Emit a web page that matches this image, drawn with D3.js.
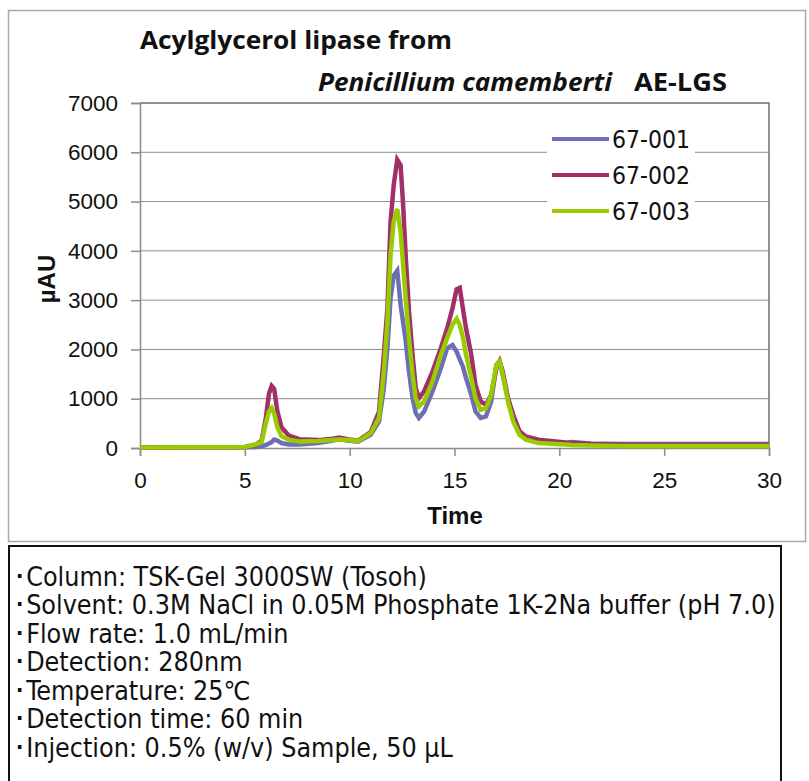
<!DOCTYPE html>
<html>
<head>
<meta charset="utf-8">
<script src="https://cdn.jsdelivr.net/npm/d3@7"></script>
<style>
  body { margin: 0; background: #fff; }
  .tick text { font-family: "Liberation Sans", Arial, sans-serif; }
</style>
</head>
<body>
<div id="chart"></div>
<script>
// Step 1: data
//= =================================
var times = [
  0, 5, 5.5, 5.8, 6.0, 6.15, 6.28, 6.4, 6.55, 6.75,
  7.1, 7.6, 8.5, 9.2, 9.5, 9.9, 10.4, 11.0, 11.4, 11.63,
  11.8, 11.95, 12.1, 12.27, 12.43, 12.55, 12.67, 12.83, 13.0, 13.15,
  13.3, 13.55, 13.95, 14.35, 14.65, 14.9, 15.1, 15.25, 15.4, 15.55,
  15.8, 16.0, 16.25, 16.5, 16.75, 17.0, 17.15, 17.3, 17.55, 17.8,
  18.1, 18.4, 19.0, 20.3, 20.6, 21.5, 23, 25, 27, 30
];

var s001 = [
  10, 15, 20, 40, 60, 90, 120, 170, 150, 100,
  70, 70, 100, 150, 180, 150, 130, 270, 540, 1215,
  2025, 3040, 3500, 3600, 2900, 2550, 2180, 1550, 1010, 710,
  610, 740, 1150, 1620, 2025, 2090, 1955, 1800, 1650, 1420,
  1080, 740, 610, 640, 945, 1690, 1760, 1485, 1010, 610,
  300, 200, 135, 100, 120, 90, 80, 80, 80, 80
];

var s002 = [
  10, 20, 60, 150, 600, 1100, 1260, 1200, 750, 420,
  250, 180, 160, 190, 210, 180, 150, 320, 740, 1890,
  2830, 4590, 5330, 5850, 5740, 4930, 3910, 2770, 1890, 1215,
  1010, 1150, 1550, 2025, 2430, 2830, 3220, 3250, 2830, 2430,
  1890, 1280, 945, 880, 1080, 1620, 1760, 1550, 1010, 675,
  340, 235, 170, 110, 100, 80, 70, 70, 70, 70
];

var s003 = [
  10, 20, 70, 120, 500, 740, 810, 700, 420, 240,
  170, 130, 140, 160, 170, 160, 140, 300, 610, 1550,
  2565, 3910, 4590, 4850, 4390, 3710, 3040, 2230, 1485, 1010,
  845, 945, 1350, 1890, 2230, 2500, 2620, 2500, 2250, 1890,
  1420, 1010, 775, 810, 1080, 1690, 1760, 1485, 945, 540,
  270, 170, 100, 70, 60, 50, 40, 40, 40, 40
];

var seriesNames = ["67-001", "67-002", "67-003"];
var seriesColors = ["#6e6eb4", "#a12f68", "#98cc00"];
var xTicks = [0, 5, 10, 15, 20, 25, 30];
var yTicks = [0, 1000, 2000, 3000, 4000, 5000, 6000, 7000];

var conditions = [
  "･Column: TSK-Gel 3000SW (Tosoh)",
  "･Solvent: 0.3M NaCl in 0.05M Phosphate 1K-2Na buffer (pH 7.0)",
  "･Flow rate: 1.0 mL/min",
  "･Detection: 280nm",
  "･Temperature: 25℃",
  "･Detection time: 60 min",
  "･Injection: 0.5% (w/v) Sample, 50 µL"
];

// Step 2: svg + plot area
//= =================================
var svgWidth = 809;
var svgHeight = 781;

var margin = { top: 103, left: 140 };
var width = 629;
var height = 345;

var svg = d3.select("#chart")
  .append("svg")
  .attr("width", svgWidth)
  .attr("height", svgHeight);

// outer frame of the chart
svg.append("rect")
  .attr("x", 8.5).attr("y", 10.5)
  .attr("width", 797).attr("height", 531)
  .attr("fill", "none")
  .attr("stroke", "#a8a8a8")
  .attr("stroke-width", 1.5);

var chartGroup = svg.append("g")
  .attr("transform", `translate(${margin.left}, ${margin.top})`);

var xScale = d3.scaleLinear().domain([0, 30]).range([0, width]);
var yScale = d3.scaleLinear().domain([0, 7000]).range([height, 0]);

// gridlines
chartGroup.selectAll(".grid")
  .data(yTicks.filter(d => d > 0 && d < 7000))
  .enter()
  .append("line")
  .attr("x1", 0).attr("x2", width)
  .attr("y1", d => yScale(d)).attr("y2", d => yScale(d))
  .attr("stroke", "#8c8c8c")
  .attr("stroke-width", 1);

// plot border (top/right darker)
chartGroup.append("path")
  .attr("d", `M0,0H${width}V${height}`)
  .attr("fill", "none")
  .attr("stroke", "#707070")
  .attr("stroke-width", 1.5);

// Step 3: axes
//= =================================
var bottomAxis = d3.axisBottom(xScale).tickValues(xTicks).tickSize(8).tickPadding(16);
var leftAxis = d3.axisLeft(yScale).tickValues(yTicks).tickSize(9).tickPadding(13)
  .tickFormat(d3.format("d"));

var xAxisG = chartGroup.append("g")
  .attr("transform", `translate(0, ${height})`)
  .call(bottomAxis);

var yAxisG = chartGroup.append("g")
  .call(leftAxis);

[xAxisG, yAxisG].forEach(function(g) {
  g.select(".domain").attr("stroke", "#8c8c8c").attr("stroke-width", 1.5);
  g.selectAll(".tick line").attr("stroke", "#8c8c8c").attr("stroke-width", 1.5);
  g.selectAll(".tick text")
    .attr("fill", "#111")
    .style("font-size", "22.5px");
});

// Step 4: lines
//= =================================
var line = d3.line()
  .x(d => xScale(d[0]))
  .y(d => yScale(d[1]));

[s001, s002, s003].forEach(function(vals, i) {
  var pts = times.map((t, j) => [t, vals[j]]);
  chartGroup.append("path")
    .datum(pts)
    .attr("d", line)
    .attr("fill", "none")
    .attr("stroke", seriesColors[i])
    .attr("stroke-width", 4.5)
    .attr("stroke-linejoin", "miter");
});

// Step 5: legend
//= =================================
var legend = svg.append("g");

legend.append("rect")
  .attr("x", 547).attr("y", 124)
  .attr("width", 148).attr("height", 102)
  .attr("fill", "#fff");

var gothicFont = "'DejaVu Sans Condensed', 'DejaVu Sans', sans-serif";

seriesNames.forEach(function(name, i) {
  var y = 139 + i * 36;
  legend.append("line")
    .attr("x1", 552).attr("x2", 609)
    .attr("y1", y).attr("y2", y)
    .attr("stroke", seriesColors[i])
    .attr("stroke-width", 4);
  legend.append("text")
    .attr("x", 612).attr("y", y + 9)
    .attr("textLength", 78)
    .attr("lengthAdjust", "spacingAndGlyphs")
    .style("font-family", gothicFont)
    .style("font-size", "24px")
    .attr("fill", "#111")
    .text(name);
});

// Step 6: titles
//= =================================
var titleFont = "'Open Sans', Lato, sans-serif";

svg.append("text")
  .attr("x", 140).attr("y", 49)
  .attr("textLength", 312)
  .attr("lengthAdjust", "spacingAndGlyphs")
  .style("font-family", titleFont)
  .style("font-weight", "bold")
  .style("font-size", "25px")
  .attr("fill", "#111")
  .text("Acylglycerol lipase from");

svg.append("text")
  .attr("x", 318).attr("y", 91)
  .attr("textLength", 294)
  .attr("lengthAdjust", "spacingAndGlyphs")
  .style("font-family", titleFont)
  .style("font-weight", "bold")
  .style("font-style", "italic")
  .style("font-size", "25px")
  .attr("fill", "#111")
  .text("Penicillium camemberti");

svg.append("text")
  .attr("x", 634).attr("y", 91)
  .attr("textLength", 93)
  .attr("lengthAdjust", "spacingAndGlyphs")
  .style("font-family", titleFont)
  .style("font-weight", "bold")
  .style("font-size", "25px")
  .attr("fill", "#111")
  .text("AE-LGS");

chartGroup.append("text")
  .attr("x", 455 - margin.left).attr("y", height + 76)
  .attr("text-anchor", "middle")
  .style("font-family", "'Liberation Sans', Arial, sans-serif")
  .style("font-weight", "bold")
  .style("font-size", "24px")
  .attr("fill", "#111")
  .text("Time");

svg.append("text")
  .attr("transform", "translate(55, 279) rotate(-90)")
  .attr("text-anchor", "middle")
  .style("font-family", "'Liberation Sans', Arial, sans-serif")
  .style("font-weight", "bold")
  .style("font-size", "24px")
  .attr("fill", "#111")
  .text("µAU");

// Step 7: conditions box
//= =================================
svg.append("rect")
  .attr("x", 9).attr("y", 546)
  .attr("width", 772).attr("height", 250)
  .attr("fill", "#fff")
  .attr("stroke", "#111")
  .attr("stroke-width", 2);

var condGroup = svg.append("g");
condGroup.selectAll("text")
  .data(conditions)
  .enter()
  .append("text")
  .attr("x", 0)
  .attr("y", (d, i) => 586 + i * 28.5)
  .style("font-family", gothicFont)
  .style("font-size", "26px")
  .attr("fill", "#111")
  .text(d => d);

// squeeze the whole block so the long solvent line fits the box
var longest = condGroup.selectAll("text").nodes()[1].getComputedTextLength();
var sx = 763 / longest;
condGroup.attr("transform", `translate(13, 0) scale(${sx}, 1)`);
</script>
</body>
</html>
